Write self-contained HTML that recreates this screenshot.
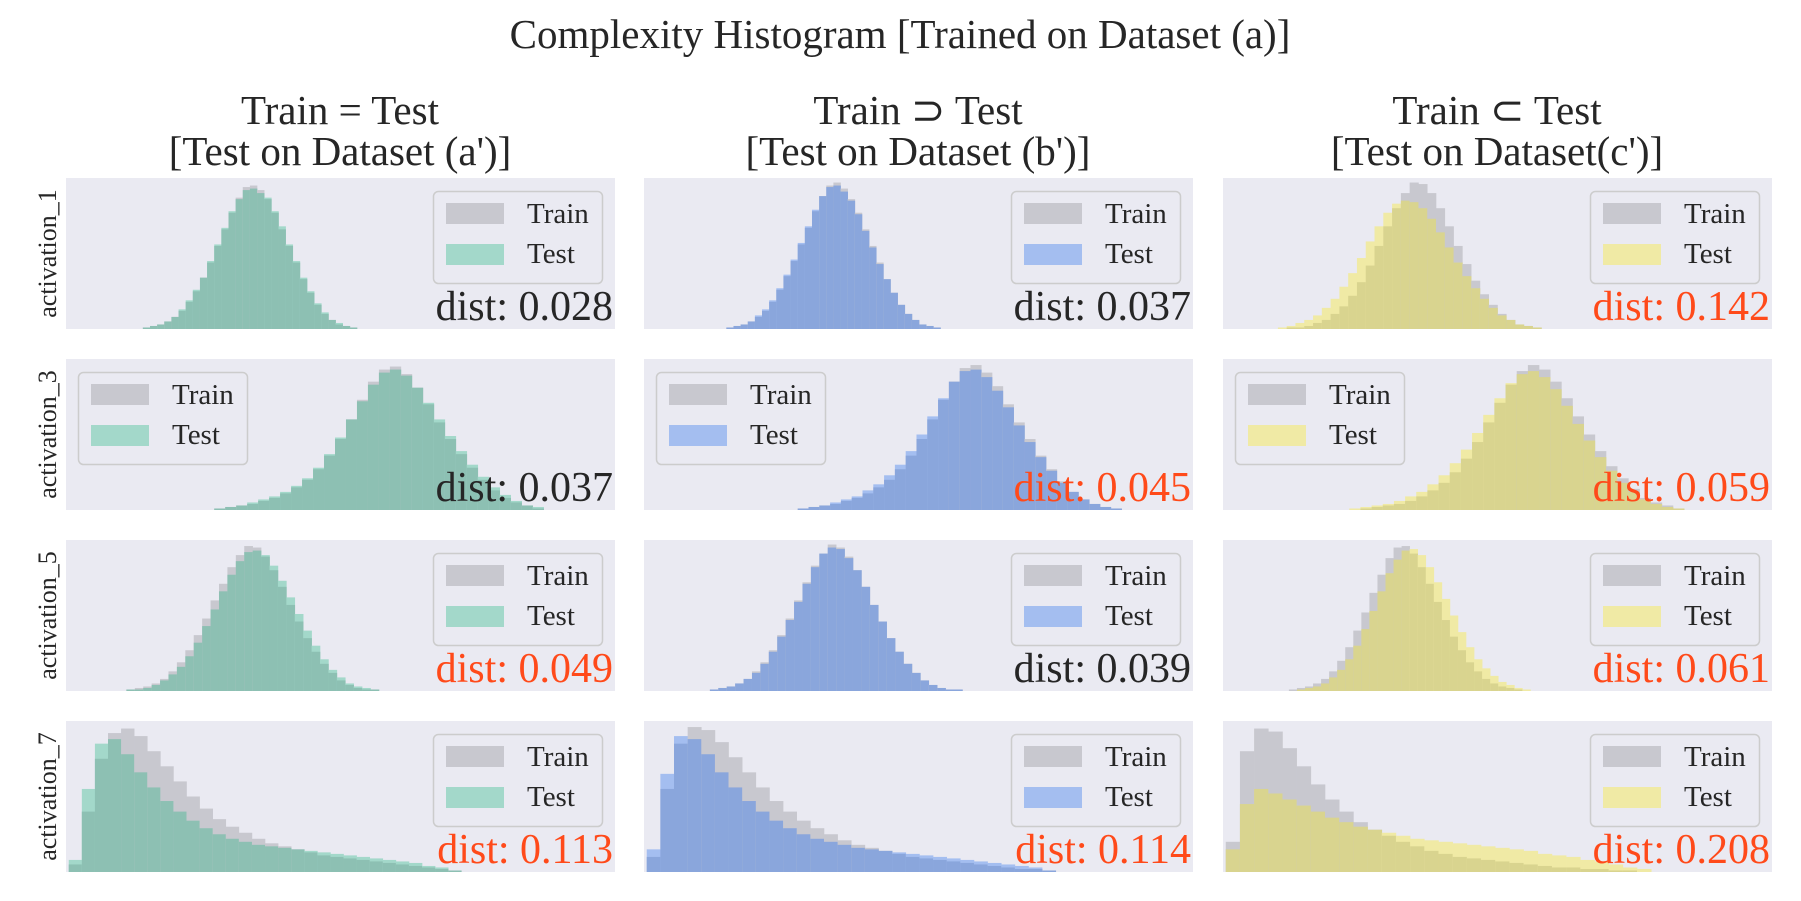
<!DOCTYPE html>
<html><head><meta charset="utf-8"><style>
html,body{margin:0;padding:0;background:#fff;}
svg{display:block;font-family:"Liberation Serif",serif;}
</style></head><body>
<svg id="fig" width="1801" height="901" viewBox="0 0 1801 901">
<text x="900" y="48" font-size="41" text-anchor="middle" fill="#262626">Complexity Histogram [Trained on Dataset (a)]</text>
<g><text x="340" y="124" font-size="41" text-anchor="middle" fill="#262626">Train = Test</text><text x="340" y="165" font-size="41" text-anchor="middle" fill="#262626">[Test on Dataset (a')]</text></g>
<g><text x="918" y="124" font-size="41" text-anchor="middle" fill="#262626">Train ⊃ Test</text><text x="918" y="165" font-size="41" text-anchor="middle" fill="#262626">[Test on Dataset (b')]</text></g>
<g><text x="1497" y="124" font-size="41" text-anchor="middle" fill="#262626">Train ⊂ Test</text><text x="1497" y="165" font-size="41" text-anchor="middle" fill="#262626">[Test on Dataset(c')]</text></g>
<g id="panels"></g>
</svg>
<script>
// row labels, distances
const rowLabels = ["activation_1","activation_3","activation_5","activation_7"];
const distValues = [[0.028,0.037,0.142],[0.037,0.045,0.059],[0.049,0.039,0.061],[0.113,0.114,0.208]];
const distRed = [[0,0,1],[0,1,1],[1,0,1],[1,1,1]];
const legendLeft = [0,1,0,0];
// x-domain of each histogram (fraction of axis range)
const rangeLo = [[0.14,0.15,0.10],[0.27,0.28,0.23],[0.11,0.12,0.12],[0.005,0.005,0.005]];
const rangeHi = [[0.53,0.54,0.58],[0.87,0.87,0.84],[0.57,0.58,0.56],[0.72,0.75,0.78]];

const train11=[0.01,0.02,0.03,0.05,0.08,0.12,0.18,0.25,0.34,0.44,0.55,0.66,0.77,0.87,0.94,0.95,0.92,0.86,0.77,0.66,0.55,0.44,0.33,0.24,0.16,0.10,0.06,0.03,0.02,0.01];
const test11=[0.01,0.02,0.03,0.05,0.08,0.13,0.19,0.26,0.34,0.45,0.56,0.67,0.78,0.86,0.92,0.93,0.90,0.87,0.78,0.68,0.56,0.45,0.34,0.25,0.17,0.11,0.06,0.04,0.02,0.01];
const train12=[0.01,0.02,0.03,0.05,0.08,0.12,0.18,0.26,0.35,0.45,0.56,0.67,0.78,0.88,0.95,0.97,0.93,0.86,0.77,0.66,0.55,0.44,0.33,0.24,0.16,0.10,0.06,0.03,0.02,0.01];
const test12=[0.01,0.02,0.03,0.05,0.09,0.13,0.19,0.27,0.36,0.46,0.57,0.68,0.79,0.88,0.94,0.95,0.91,0.85,0.76,0.65,0.54,0.43,0.33,0.24,0.16,0.10,0.06,0.03,0.02,0.01];
const train13=[0.00,0.01,0.01,0.02,0.04,0.06,0.10,0.15,0.22,0.31,0.42,0.55,0.68,0.80,0.90,0.97,0.96,0.90,0.80,0.68,0.55,0.43,0.32,0.23,0.16,0.10,0.06,0.03,0.02,0.01];
const test13=[0.01,0.02,0.04,0.06,0.09,0.14,0.20,0.28,0.37,0.47,0.58,0.68,0.77,0.83,0.85,0.84,0.80,0.73,0.64,0.54,0.44,0.35,0.27,0.20,0.14,0.09,0.06,0.03,0.02,0.01];
const train21=[0.01,0.02,0.03,0.04,0.06,0.08,0.11,0.15,0.20,0.27,0.36,0.47,0.60,0.73,0.85,0.93,0.95,0.90,0.81,0.70,0.58,0.47,0.37,0.28,0.20,0.13,0.08,0.05,0.03,0.01];
const test21=[0.01,0.02,0.03,0.05,0.07,0.09,0.12,0.16,0.21,0.28,0.37,0.48,0.60,0.72,0.83,0.91,0.93,0.89,0.81,0.71,0.60,0.49,0.39,0.30,0.22,0.15,0.10,0.06,0.03,0.02];
const train22=[0.01,0.02,0.03,0.04,0.06,0.08,0.11,0.15,0.20,0.27,0.36,0.47,0.60,0.73,0.85,0.94,0.96,0.91,0.82,0.70,0.58,0.47,0.36,0.27,0.19,0.12,0.07,0.04,0.02,0.01];
const test22=[0.01,0.02,0.03,0.05,0.07,0.09,0.13,0.17,0.23,0.30,0.39,0.50,0.62,0.74,0.85,0.92,0.93,0.88,0.79,0.68,0.56,0.45,0.35,0.26,0.18,0.12,0.07,0.04,0.02,0.01];
const train23=[0.00,0.01,0.02,0.03,0.04,0.06,0.09,0.13,0.18,0.25,0.34,0.45,0.58,0.71,0.83,0.92,0.96,0.93,0.85,0.74,0.62,0.50,0.39,0.29,0.21,0.14,0.08,0.05,0.03,0.01];
const test23=[0.01,0.02,0.03,0.04,0.06,0.09,0.12,0.17,0.23,0.31,0.40,0.51,0.63,0.74,0.84,0.90,0.92,0.88,0.80,0.69,0.57,0.46,0.35,0.26,0.18,0.12,0.07,0.04,0.02,0.01];
const train31=[0.01,0.02,0.03,0.05,0.08,0.13,0.19,0.27,0.37,0.48,0.60,0.71,0.82,0.90,0.96,0.95,0.89,0.80,0.69,0.57,0.46,0.35,0.26,0.18,0.12,0.07,0.04,0.02,0.01,0.01];
const test31=[0.01,0.01,0.02,0.04,0.07,0.11,0.16,0.23,0.32,0.43,0.54,0.66,0.77,0.86,0.92,0.93,0.90,0.83,0.73,0.62,0.51,0.40,0.30,0.21,0.14,0.09,0.05,0.03,0.02,0.01];
const train32=[0.01,0.02,0.03,0.05,0.08,0.13,0.19,0.27,0.37,0.48,0.60,0.72,0.83,0.91,0.97,0.95,0.89,0.80,0.69,0.57,0.46,0.35,0.26,0.18,0.12,0.07,0.04,0.02,0.01,0.01];
const test32=[0.01,0.02,0.03,0.05,0.08,0.12,0.18,0.26,0.36,0.47,0.59,0.71,0.82,0.91,0.95,0.94,0.88,0.80,0.69,0.57,0.46,0.35,0.26,0.18,0.12,0.07,0.04,0.02,0.01,0.01];
const train33=[0.01,0.02,0.03,0.05,0.08,0.13,0.20,0.29,0.40,0.52,0.65,0.77,0.88,0.95,0.96,0.91,0.82,0.71,0.59,0.47,0.36,0.27,0.19,0.13,0.08,0.05,0.03,0.02,0.01,0.00];
const test33=[0.00,0.01,0.02,0.03,0.05,0.09,0.14,0.21,0.30,0.41,0.53,0.66,0.78,0.87,0.93,0.94,0.90,0.82,0.72,0.61,0.50,0.39,0.29,0.21,0.15,0.10,0.06,0.04,0.02,0.01];
const train41=[0.05,0.40,0.75,0.92,0.95,0.90,0.80,0.70,0.60,0.50,0.42,0.35,0.30,0.26,0.22,0.19,0.17,0.15,0.13,0.11,0.10,0.09,0.08,0.07,0.06,0.05,0.04,0.03,0.02,0.01];
const test41=[0.08,0.55,0.85,0.88,0.78,0.66,0.56,0.47,0.40,0.34,0.29,0.25,0.22,0.20,0.18,0.17,0.16,0.15,0.14,0.13,0.12,0.11,0.10,0.09,0.08,0.07,0.06,0.04,0.03,0.01];
const train42=[0.10,0.55,0.85,0.96,0.94,0.86,0.76,0.66,0.56,0.47,0.40,0.34,0.29,0.25,0.21,0.18,0.16,0.14,0.12,0.10,0.09,0.08,0.07,0.06,0.05,0.04,0.03,0.02,0.02,0.01];
const test42=[0.15,0.65,0.90,0.88,0.78,0.66,0.56,0.47,0.40,0.34,0.29,0.25,0.22,0.20,0.18,0.16,0.15,0.14,0.13,0.12,0.11,0.10,0.09,0.08,0.07,0.06,0.05,0.04,0.03,0.01];
const train43=[0.20,0.80,0.95,0.93,0.82,0.70,0.58,0.48,0.40,0.33,0.28,0.24,0.20,0.17,0.14,0.12,0.10,0.09,0.08,0.07,0.06,0.05,0.04,0.03,0.03,0.02,0.02,0.01,0.01,0.00];
const test43=[0.15,0.45,0.55,0.52,0.48,0.44,0.40,0.36,0.33,0.30,0.28,0.26,0.24,0.22,0.21,0.20,0.19,0.18,0.17,0.16,0.15,0.14,0.12,0.11,0.10,0.08,0.07,0.05,0.03,0.02];

const trainSeries=[[train11,train12,train13],[train21,train22,train23],[train31,train32,train33],[train41,train42,train43]];
const testSeries=[[test11,test12,test13],[test21,test22,test23],[test31,test32,test33],[test41,test42,test43]];

const colX=[66,644,1223], rowY=[178,359,540,721], PW=549, PH=151;
const swatch=["#a3d8ca","#a4bef0","#f0eaa5"], overlap=["#8dc0b3","#8aa6dc","#d9d48f"];
const GRAY="#c8c8cf", BG="#eaeaf2";
const NS="http://www.w3.org/2000/svg";
const root=document.getElementById('panels');
function mk(tag,attrs,parent){const e=document.createElementNS(NS,tag);for(const k in attrs)e.setAttribute(k,attrs[k]);parent.appendChild(e);return e;}

for(let r=0;r<4;r++){
  for(let c=0;c<3;c++){
    const x0=colX[c], y0=rowY[r];
    const xs=v=>x0+v*PW, ys=h=>y0+PH-h*PH;
    const g=mk('g',{},root);
    
    
    const bg=mk('rect',{x:x0,y:y0,width:PW,height:PH,fill:BG},g);
    
    
    const tr=trainSeries[r][c], te=testSeries[r][c];
    const n=tr.length, lo=rangeLo[r][c], hi=rangeHi[r][c], bw=(hi-lo)/n;
    for(let i=0;i<n;i++){
      const xa=xs(lo+i*bw), xb=xs(lo+(i+1)*bw);
      const mx=Math.max(tr[i],te[i]), mn=Math.min(tr[i],te[i]);
      const top=mk('rect',{x:xa,y:ys(mx),width:xb-xa+0.3,height:ys(0)-ys(mx),fill:tr[i]>=te[i]?GRAY:swatch[c]},g);
      
      
      const ov=mk('rect',{x:xa,y:ys(mn),width:xb-xa+0.3,height:ys(0)-ys(mn),fill:overlap[c]},g);
      
      
    }
    // legend
    const lx=legendLeft[r]?x0+12:x0+PW-13-169, ly=y0+13;
    const lg=mk('g',{},g);
    
    
    mk('rect',{x:lx+0.5,y:ly+0.5,width:169,height:92,rx:5,fill:"#eaeaf2",stroke:"#cccccc","stroke-width":1.5},lg);
    const s1=mk('rect',{x:lx+13,y:ly+12,width:58,height:21,fill:GRAY},lg);
    
    
    const t1=mk('text',{x:lx+94,y:ly+32,"font-size":29,fill:"#262626"},lg);t1.textContent="Train";
    
    
    const s2=mk('rect',{x:lx+13,y:ly+53,width:58,height:21,fill:swatch[c]},lg);
    
    
    const t2=mk('text',{x:lx+94,y:ly+72,"font-size":29,fill:"#262626"},lg);t2.textContent="Test";
    
    
    const d=mk('text',{x:x0+PW-2,y:y0+PH-9,"font-size":42,"text-anchor":"end",fill:distRed[r][c]?"#ff4a1a":"#262626"},g);
    d.textContent="dist: "+distValues[r][c].toFixed(3);
    
    
  }
  const yl=mk('text',{x:0,y:0,"font-size":26,"text-anchor":"middle",fill:"#262626",transform:`translate(56,${rowY[r]+PH/2}) rotate(-90)`},root);
  yl.textContent=rowLabels[r];
  
  
}
</script>
</body></html>
